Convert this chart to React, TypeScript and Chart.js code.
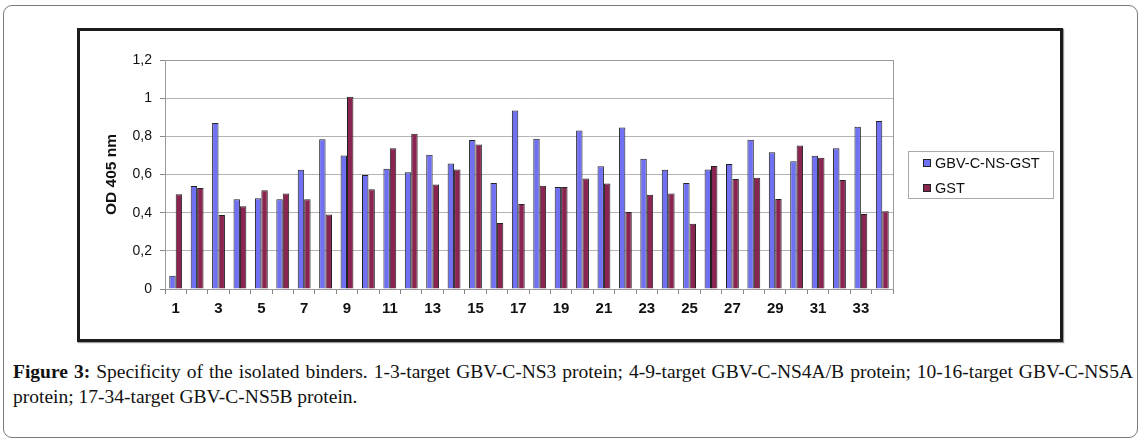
import React, { useEffect, useRef } from "react";
import { Chart, registerables } from "chart.js";

Chart.register(...registerables);

const categories = [
  "1", "2", "3", "4", "5", "6", "7", "8", "9", "10", "11", "12", "13", "14", "15", "16", "17",
  "18", "19", "20", "21", "22", "23", "24", "25", "26", "27", "28", "29", "30", "31", "32", "33", "34",
];

const gbvValues = [
  0.07, 0.54, 0.87, 0.47, 0.475, 0.47, 0.625, 0.785, 0.70, 0.597, 0.63, 0.612, 0.703, 0.657,
  0.781, 0.555, 0.935, 0.787, 0.534, 0.83, 0.643, 0.846, 0.683, 0.625, 0.555, 0.626, 0.655,
  0.782, 0.717, 0.67, 0.698, 0.738, 0.85, 0.881,
];

const gstValues = [
  0.497, 0.529, 0.388, 0.434, 0.518, 0.50, 0.47, 0.39, 1.007, 0.523, 0.738, 0.814, 0.547, 0.626,
  0.757, 0.346, 0.445, 0.541, 0.534, 0.579, 0.553, 0.403, 0.494, 0.50, 0.342, 0.644, 0.576,
  0.583, 0.471, 0.752, 0.688, 0.571, 0.393, 0.407,
];

const seriesLabels = ["GBV-C-NS-GST", "GST"];
const seriesColors = ["#7070f2", "#8a2552"];
const yTickLabels = ["0", "0,2", "0,4", "0,6", "0,8", "1", "1,2"];
const yTitle = "OD 405 nm";

const FONT = "'Liberation Sans', Arial, Helvetica, sans-serif";

const plotBorder = {
  id: "plotBorder",
  beforeDatasetsDraw(chart: any) {
    const { ctx, chartArea } = chart;
    ctx.save();
    ctx.strokeStyle = "#9a9a9a";
    ctx.lineWidth = 1;
    ctx.strokeRect(
      Math.round(chartArea.left) + 0.5,
      Math.round(chartArea.top) + 0.5,
      Math.round(chartArea.right - chartArea.left),
      Math.round(chartArea.bottom - chartArea.top)
    );
    ctx.restore();
  },
};

export default function App() {
  const canvasRef = useRef<HTMLCanvasElement | null>(null);

  useEffect(() => {
    document.body.style.margin = "0";
    const canvas = canvasRef.current;
    if (!canvas) return;
    const chart = new Chart(canvas, {
      type: "bar",
      data: {
        labels: categories,
        datasets: [
          {
            label: seriesLabels[0],
            data: gbvValues,
            backgroundColor: seriesColors[0],
            borderColor: "#222",
            borderWidth: 1,
            categoryPercentage: 0.6,
            barPercentage: 1.0,
          },
          {
            label: seriesLabels[1],
            data: gstValues,
            backgroundColor: seriesColors[1],
            borderColor: "#222",
            borderWidth: 1,
            categoryPercentage: 0.6,
            barPercentage: 1.0,
          },
        ],
      },
      options: {
        responsive: false,
        animation: false,
        devicePixelRatio: 1,
        layout: { padding: { left: 19, right: 167, top: 29, bottom: 0 } },
        plugins: {
          legend: { display: false },
          tooltip: { enabled: false },
        },
        scales: {
          x: {
            offset: true,
            grid: {
              offset: true,
              drawOnChartArea: false,
              drawTicks: true,
              tickLength: 5,
              tickColor: "#888",
            },
            border: { display: true, color: "#888" },
            ticks: {
              autoSkip: false,
              maxRotation: 0,
              padding: 6,
              color: "#111",
              font: { family: FONT, size: 15, weight: "bold" },
              callback: (_v: any, i: number) => (i % 2 === 0 ? categories[i] : ""),
            },
            afterFit: (scale: any) => {
              scale.height = 49;
            },
          },
          y: {
            min: 0,
            max: 1.2,
            grid: {
              color: "#b4b4b4",
              tickLength: 5,
              tickColor: "#888",
            },
            border: { display: true, color: "#9a9a9a" },
            ticks: {
              stepSize: 0.2,
              padding: 8,
              color: "#111",
              font: { family: FONT, size: 14 },
              callback: (_v: any, i: number) => yTickLabels[i],
            },
            title: {
              display: true,
              text: yTitle,
              color: "#111",
              font: { family: FONT, size: 15.5, weight: "bold" },
              padding: { top: 3, bottom: 4 },
            },
            afterFit: (scale: any) => {
              scale.width = 66;
            },
          },
        },
      },
      plugins: [plotBorder],
    });
    return () => chart.destroy();
  }, []);

  return (
    <div style={{ position: "fixed", left: 0, top: 0, width: 1144, height: 444, background: "#fff", overflow: "hidden" }}>
      <div
        style={{
          position: "absolute",
          left: 3,
          top: 5,
          width: 1133,
          height: 431,
          border: "1px solid #7a7a7a",
          borderRadius: 9,
        }}
      />
      <div
        style={{
          position: "absolute",
          left: 77,
          top: 28,
          width: 980,
          height: 308,
          border: "3px solid #1c1c1c",
          boxShadow: "1px 1px 1px #999",
        }}
      />
      <canvas
        ref={canvasRef}
        width={980}
        height={307}
        style={{ position: "absolute", left: 80, top: 31, width: 980, height: 307 }}
      />
      <div
        style={{
          position: "absolute",
          left: 908,
          top: 151,
          width: 144,
          height: 46,
          border: "1px solid #aaa",
          fontFamily: FONT,
          fontSize: 14.5,
          color: "#111",
        }}
      >
        {seriesLabels.map((lab, i) => (
          <div
            key={lab}
            style={{ position: "absolute", left: 14, top: i === 0 ? 2 : 27, height: 18, lineHeight: "18px", whiteSpace: "nowrap" }}
          >
            <span
              style={{
                display: "inline-block",
                width: 6,
                height: 6,
                background: seriesColors[i],
                border: "1px solid #222",
                marginRight: 4,
                verticalAlign: "middle",
                position: "relative",
                top: -1,
              }}
            />
            {lab}
          </div>
        ))}
      </div>
      <div
        style={{
          position: "absolute",
          left: 13,
          top: 359,
          width: 1120,
          fontFamily: "'Liberation Serif', 'DejaVu Serif', serif",
          fontSize: 19.5,
          lineHeight: "25px",
          color: "#111",
        }}
      >
        <div style={{ textAlign: "justify", textAlignLast: "justify", whiteSpace: "nowrap" }}>
          <b>Figure 3:</b> Specificity of the isolated binders. 1-3-target GBV-C-NS3 protein; 4-9-target GBV-C-NS4A/B protein; 10-16-target GBV-C-NS5A
        </div>
        <div>protein; 17-34-target GBV-C-NS5B protein.</div>
      </div>
    </div>
  );
}
